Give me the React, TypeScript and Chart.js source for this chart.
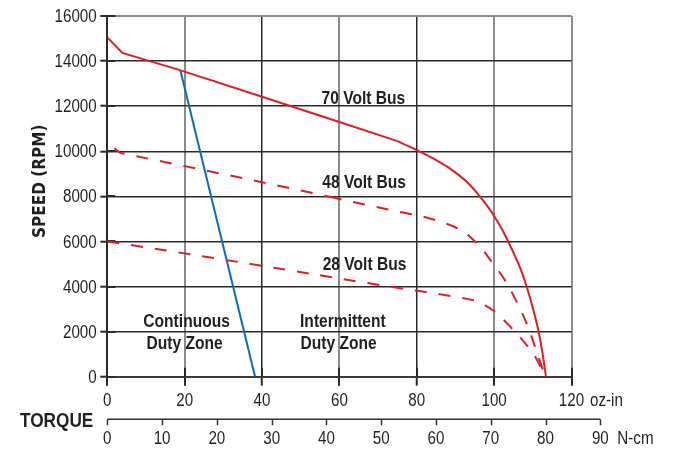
import React, { useEffect, useRef } from 'react';
import { Chart, registerables } from 'chart.js';

Chart.register(...registerables);

// Narrow lettering: Liberation Sans squeezed horizontally
const SANS = '"Liberation Sans", Arial, sans-serif';
const NARROW_SCALE = 0.82;
const TITLE_FONT = '"DejaVu Sans Condensed", "Liberation Sans", sans-serif';
const INK = '#231f20';
const GRID_DARK = '#2a2a2a';
const GRID_GRAY = '#8c8c8c';
const RED = '#dc1f26';
const BLUE = '#0c6cb5';

// Axis ticks
const ozInTicks = [0, 20, 40, 60, 80, 100, 120];
const nCmTicks = [0, 10, 20, 30, 40, 50, 60, 70, 80, 90];
const speedTicks = [0, 2000, 4000, 6000, 8000, 10000, 12000, 14000, 16000];
const OZIN_PER_NCM = 1.41612;

// 70 V bus speed/torque curve (oz-in, RPM); the first KNEE_70 + 1 points are straight runs
const bus70Torque = [0, 3.9, 19, 40, 60, 74.8, 80.4, 84.2, 88.5, 92.9, 96.4, 99, 101, 103, 105, 106.7, 108.4, 110.1, 111.4, 112.5, 113.4];
const bus70Speed = [15050, 14360, 13590, 12420, 11300, 10460, 10018, 9680, 9238, 8644, 7979, 7389, 6850, 6220, 5500, 4840, 4000, 2980, 2080, 1060, 0];
const KNEE_70 = 5;

// 48 V bus
const bus48Torque = [1.8, 3.3, 20, 40, 57.5, 70.5, 76.5, 82.5, 86, 89.8, 92.5, 95, 97, 99.3, 102.8, 105.8, 108.4, 110.5, 113.2];
const bus48Speed = [10130, 9930, 9340, 8630, 7979, 7491, 7280, 7060, 6880, 6640, 6380, 6010, 5640, 5110, 4280, 3330, 2370, 1360, 0];
const KNEE_48 = 4;

// 28 V bus
const bus28Torque = [0, 20, 40, 55, 71.3, 80.2, 88.6, 94.6, 97, 100, 102, 104.7, 106.5, 109.1, 110.5, 113.2];
const bus28Speed = [6000, 5470, 4920, 4500, 4040, 3810, 3580, 3390, 3230, 2900, 2600, 2120, 1790, 1250, 920, 0];
const KNEE_28 = 3;

// Continuous duty boundary
const dutyLimitTorque = [18.9, 38.2];
const dutyLimitSpeed = [13580, 0];

// Curve captions
const curveLabels = ['70 Volt Bus', '48 Volt Bus', '28 Volt Bus'];
const curveLabelTorque = [66.2, 66.4, 66.5];
const curveLabelSpeed = [12340, 8600, 4950];

// Zone captions
const zoneText = ['Continuous', 'Duty Zone', 'Intermittent', 'Duty Zone'];
const zoneTorque = [20.5, 20.0, 60.9, 59.8];
const zoneSpeed = [2440, 1480, 2440, 1480];

const zip = (xs: number[], ys: number[]) => xs.map((x, i) => ({ x, y: ys[i] }));

function narrowText(ctx: CanvasRenderingContext2D, text: string, x: number, y: number, size: number, bold: boolean, align: CanvasTextAlign) {
  ctx.save();
  ctx.font = `${bold ? 'bold ' : ''}${size}px ${SANS}`;
  ctx.fillStyle = INK;
  ctx.textAlign = align;
  ctx.textBaseline = 'middle';
  ctx.translate(x, y);
  ctx.scale(NARROW_SCALE, 1);
  ctx.fillText(text, 0, 0);
  ctx.restore();
}

const torqueAxisPlugin = {
  id: 'torqueAxis',
  beforeDatasetsDraw(chart: any) {
    const { ctx, scales, chartArea } = chart;
    const x = scales.x;
    const y = scales.y;
    ctx.save();
    ctx.strokeStyle = GRID_DARK;
    ctx.lineWidth = 2;
    // inner halves of the tick marks
    ozInTicks.forEach((v) => {
      const px = Math.round(x.getPixelForValue(v));
      ctx.beginPath();
      ctx.moveTo(px, chartArea.bottom);
      ctx.lineTo(px, chartArea.bottom - 9);
      ctx.stroke();
    });
    speedTicks.forEach((v) => {
      const py = Math.round(y.getPixelForValue(v));
      ctx.beginPath();
      ctx.moveTo(chartArea.left, py);
      ctx.lineTo(chartArea.left + 8, py);
      ctx.stroke();
    });
    ctx.restore();
  },
  afterDatasetsDraw(chart: any) {
    const { ctx, scales, chartArea } = chart;
    const x = scales.x;
    const y = scales.y;

    curveLabels.forEach((t, i) => {
      narrowText(ctx, t, x.getPixelForValue(curveLabelTorque[i]), y.getPixelForValue(curveLabelSpeed[i]), 19, true, 'center');
    });
    zoneText.forEach((t, i) => {
      narrowText(ctx, t, x.getPixelForValue(zoneTorque[i]), y.getPixelForValue(zoneSpeed[i]), 19, true, 'center');
    });

    // speed tick labels
    speedTicks.forEach((v) => {
      narrowText(ctx, String(v), chartArea.left - 10.6, y.getPixelForValue(v) + 1, 18.5, false, 'right');
    });

    // oz-in tick labels and unit
    const labelY = chartArea.bottom + 24;
    ozInTicks.forEach((v) => {
      narrowText(ctx, String(v), x.getPixelForValue(v), labelY, 18.5, false, 'center');
    });
    narrowText(ctx, 'oz-in', x.getPixelForValue(120) + 18.5, labelY, 18.5, false, 'left');

    // secondary torque axis in N-cm
    const axisY = chartArea.bottom + 42.6;
    const nx = (v: number) => x.getPixelForValue(v * OZIN_PER_NCM);
    ctx.save();
    ctx.strokeStyle = '#333';
    ctx.lineWidth = 1.5;
    ctx.beginPath();
    ctx.moveTo(nx(0), axisY);
    ctx.lineTo(nx(90), axisY);
    ctx.stroke();
    nCmTicks.forEach((v) => {
      const px = Math.round(nx(v)) + 0.5;
      ctx.beginPath();
      ctx.moveTo(px, axisY);
      ctx.lineTo(px, axisY + 6);
      ctx.stroke();
    });
    ctx.restore();
    nCmTicks.forEach((v) => {
      narrowText(ctx, String(v), nx(v), axisY + 20, 18.5, false, 'center');
    });
    narrowText(ctx, 'N-cm', nx(90) + 17, axisY + 20, 18.5, false, 'left');
    narrowText(ctx, 'TORQUE', chartArea.left - 14, axisY + 2, 21, true, 'right');

    // vertical axis title
    ctx.save();
    ctx.fillStyle = INK;
    ctx.font = `bold 17px ${TITLE_FONT}`;
    ctx.textAlign = 'center';
    ctx.textBaseline = 'middle';
    ctx.translate(chartArea.left - 66.5, chartArea.top + 165.3);
    ctx.rotate(-Math.PI / 2);
    ctx.fillText('SPEED (RPM)', 0, 0);
    ctx.restore();
  },
};

export default function App() {
  const ref = useRef<HTMLCanvasElement>(null);

  useEffect(() => {
    const redLine = (dash: number[]) => ({
      borderColor: RED,
      borderWidth: 2,
      borderDash: dash,
      pointRadius: 0,
      showLine: true,
      fill: false,
    });
    // straight run up to the knee, smooth roll-off after it
    const busDatasets = (label: string, torque: number[], speed: number[], knee: number, dash: number[]) => [
      { ...redLine(dash), label, data: zip(torque.slice(0, knee + 1), speed.slice(0, knee + 1)), tension: 0 },
      { ...redLine(dash), label, data: zip(torque.slice(knee), speed.slice(knee)), cubicInterpolationMode: 'monotone' },
    ];

    const chart = new Chart(ref.current as HTMLCanvasElement, {
      type: 'scatter',
      data: {
        datasets: [
          ...busDatasets('70 Volt Bus', bus70Torque, bus70Speed, KNEE_70, []),
          ...busDatasets('48 Volt Bus', bus48Torque, bus48Speed, KNEE_48, [12, 12]),
          ...busDatasets('28 Volt Bus', bus28Torque, bus28Speed, KNEE_28, [12, 12]),
          {
            label: 'Continuous duty limit',
            data: zip(dutyLimitTorque, dutyLimitSpeed),
            borderColor: BLUE,
            borderWidth: 2,
            pointRadius: 0,
            showLine: true,
            tension: 0,
          },
        ],
      },
      options: {
        responsive: false,
        animation: false,
        devicePixelRatio: 1,
        layout: { padding: { top: 16, right: 105.5, bottom: 0, left: 0 } },
        plugins: { legend: { display: false }, tooltip: { enabled: false } },
        scales: {
          x: {
            type: 'linear',
            min: 0,
            max: 120,
            afterBuildTicks: (s: any) => {
              s.ticks = ozInTicks.map((v) => ({ value: v }));
            },
            afterFit: (s: any) => {
              s.height = 77.3;
            },
            ticks: { display: false },
            grid: {
              color: (c: any) => (c.tick && (c.tick.value === 40 || c.tick.value === 80 || c.tick.value === 0) ? GRID_DARK : GRID_GRAY),
              lineWidth: (c: any) => (c.tick && (c.tick.value === 40 || c.tick.value === 80) ? 1.5 : 2),
              tickColor: GRID_DARK,
              tickWidth: 2,
              tickLength: 9,
            },
            border: { display: true, color: '#3a3a3a', width: 2 },
          },
          y: {
            type: 'linear',
            min: 0,
            max: 16000,
            afterBuildTicks: (s: any) => {
              s.ticks = speedTicks.map((v) => ({ value: v }));
            },
            afterFit: (s: any) => {
              s.width = 107.3;
            },
            ticks: { display: false },
            grid: {
              color: (c: any) => (c.tick && c.tick.value === 16000 ? GRID_GRAY : GRID_DARK),
              lineWidth: (c: any) => (c.tick && c.tick.value === 16000 ? 2 : 1.4),
              tickColor: GRID_DARK,
              tickWidth: 2,
              tickLength: 7,
            },
            border: { display: true, color: '#2a2a2a', width: 2 },
          },
        },
      },
      plugins: [torqueAxisPlugin],
    } as any);
    return () => chart.destroy();
  }, []);

  return (
    <div style={{ position: 'absolute', left: 0, top: 0, width: 677, height: 454, background: '#ffffff' }}>
      <canvas ref={ref} width={677} height={454} style={{ display: 'block', width: 677, height: 454 }} />
    </div>
  );
}
